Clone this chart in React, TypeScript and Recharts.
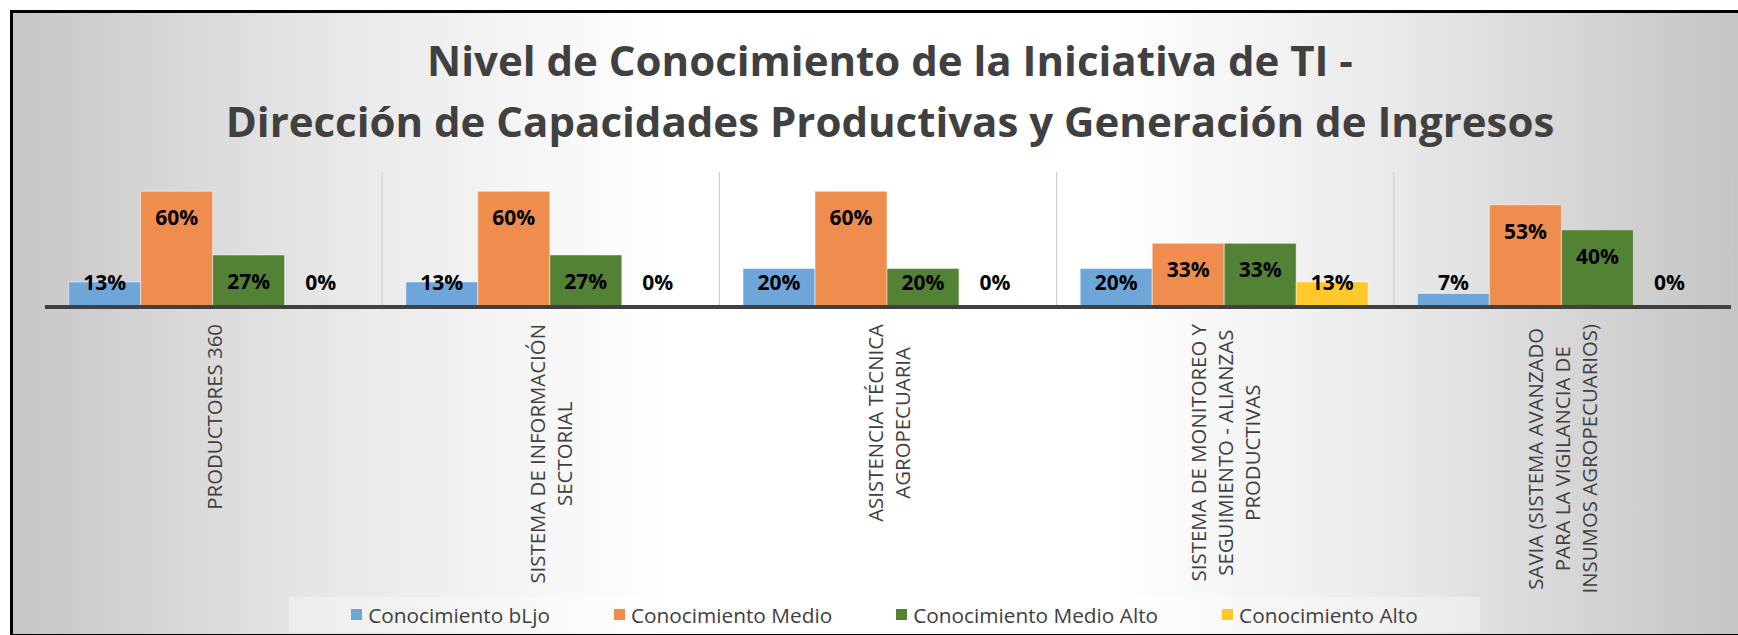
import React from "react";
import { BarChart, Bar, XAxis, YAxis, CartesianGrid, Legend, LabelList } from "recharts";

const categories = [
  "PRODUCTORES 360",
  "SISTEMA DE INFORMACIÓN\nSECTORIAL",
  "ASISTENCIA TÉCNICA\nAGROPECUARIA",
  "SISTEMA DE MONITOREO Y\nSEGUIMIENTO - ALIANZAS\nPRODUCTIVAS",
  "SAVIA (SISTEMA AVANZADO\nPARA LA VIGILANCIA DE\nINSUMOS AGROPECUARIOS)",
];
const seriesNames = ["Conocimiento bLjo", "Conocimiento Medio", "Conocimiento Medio Alto", "Conocimiento Alto"];
const bajo = [13, 13, 20, 20, 7];
const medio = [60, 60, 60, 33, 53];
const medioAlto = [27, 27, 20, 33, 40];
const alto = [0, 0, 0, 13, 0];
const colors = ["#6FA6DA", "#EE8D4D", "#548235", "#FFC82C"];
const keys = ["bajo", "medio", "medioAlto", "alto"];

const data = categories.map((name, i) => ({
  name,
  bajo: bajo[i],
  medio: medio[i],
  medioAlto: medioAlto[i],
  alto: alto[i],
}));

const TITLE_1 = "Nivel de Conocimiento de la Iniciativa de TI -";
const TITLE_2 = "Dirección de Capacidades Productivas y Generación de Ingresos";

let ctx: CanvasRenderingContext2D | null = null;
const measure = (t: string) => {
  if (!ctx) ctx = document.createElement("canvas").getContext("2d");
  if (!ctx) return t.length * 12;
  ctx.font = '20.4px "Open Sans"';
  return ctx.measureText(t).width;
};

const CategoryTick = (props: any) => {
  const { x, y, payload } = props;
  const lines = String(payload.value).split("\n");
  const maxW = Math.max(...lines.map(measure));
  const cy = y + maxW / 2;
  return (
    <g>
      {lines.map((l, i) => (
        <text
          key={i}
          transform={`translate(${x + (i - (lines.length - 1) / 2) * 27},${cy}) rotate(-90)`}
          textAnchor="middle"
          dominantBaseline="central"
          fontFamily="Open Sans"
          fontSize={20.4}
          fill="#404040"
        >
          {l}
        </text>
      ))}
    </g>
  );
};

const renderLabel = (props: any) => {
  const { x, y, width, height, value } = props;
  const base = y + height;
  const cy = Math.min(y + 26, base - 25);
  return (
    <text
      x={x + width / 2}
      y={cy}
      textAnchor="middle"
      dominantBaseline="central"
      fontFamily="Open Sans"
      fontWeight={700}
      fontSize={21}
      fill="#000"
    >
      {value}%
    </text>
  );
};

// legend keeps the series order of the workbook
const LegendContent = () => (
  <div
    style={{
      height: 35,
      background: "rgba(255,255,255,0.35)",
      display: "flex",
      alignItems: "center",
      justifyContent: "center",
      gap: 64,
      fontFamily: "Open Sans",
      fontSize: 20.8,
      color: "#404040",
    }}
  >
    {seriesNames.map((n, i) => (
      <div key={n} style={{ display: "flex", alignItems: "center" }}>
        <span style={{ width: 11, height: 11, background: colors[i], marginRight: 6, display: "inline-block" }} />
        <span>{n}</span>
      </div>
    ))}
  </div>
);

export default function App() {
  return (
    <div style={{ position: "absolute", left: 0, top: 0, width: 1738, height: 635, overflow: "hidden", background: "#fff" }}>
      <div
        style={{
          position: "absolute",
          left: 10,
          top: 10,
          width: 1780,
          height: 627,
          boxSizing: "border-box",
          border: "3px solid #000",
          background:
            "linear-gradient(to right, #c6c6c6 0px, #e8e8e8 322px, #ffffff 655px, #ffffff 1098px, #eaeaea 1375px, #c4c4c4 1728px)",
        }}
      />
      <div
        style={{
          position: "absolute",
          left: 0,
          top: 29,
          width: 1780,
          textAlign: "center",
          fontFamily: "Open Sans",
          fontWeight: 700,
          fontSize: 42,
          lineHeight: "61px",
          color: "#404040",
        }}
      >
        <div>{TITLE_1}</div>
        <div>{TITLE_2}</div>
      </div>
      <div style={{ position: "absolute", left: 0, top: 0 }}>
        <BarChart
          width={1738}
          height={635}
          data={data}
          margin={{ top: 172, right: 7, left: 45, bottom: 3 }}
          barCategoryGap="7%"
          barGap={0}
        >
          <CartesianGrid
            horizontal={false}
            stroke="#c8c8c8"
            verticalCoordinatesGenerator={({ offset }: any) =>
              categories.map((_, i) => offset.left + (i * offset.width) / categories.length).concat(offset.left + offset.width)
            }
          />
          <YAxis hide domain={[0, 70]} />
          <XAxis
            dataKey="name"
            height={290}
            interval={0}
            tickLine={false}
            tickSize={0}
            tickMargin={17}
            axisLine={{ stroke: "#404040", strokeWidth: 4 }}
            tick={<CategoryTick />}
          />
          <Legend verticalAlign="bottom" content={<LegendContent />} wrapperStyle={{ left: 289, width: 1191, bottom: 3 }} />
          {keys.map((k, i) => (
            <Bar
              key={k}
              dataKey={k}
              name={seriesNames[i]}
              fill={colors[i]}
              stroke="#ffffff"
              strokeOpacity={0.5}
              minPointSize={1}
              isAnimationActive={false}
            >
              <LabelList dataKey={k} content={renderLabel} />
            </Bar>
          ))}
        </BarChart>
      </div>
    </div>
  );
}
